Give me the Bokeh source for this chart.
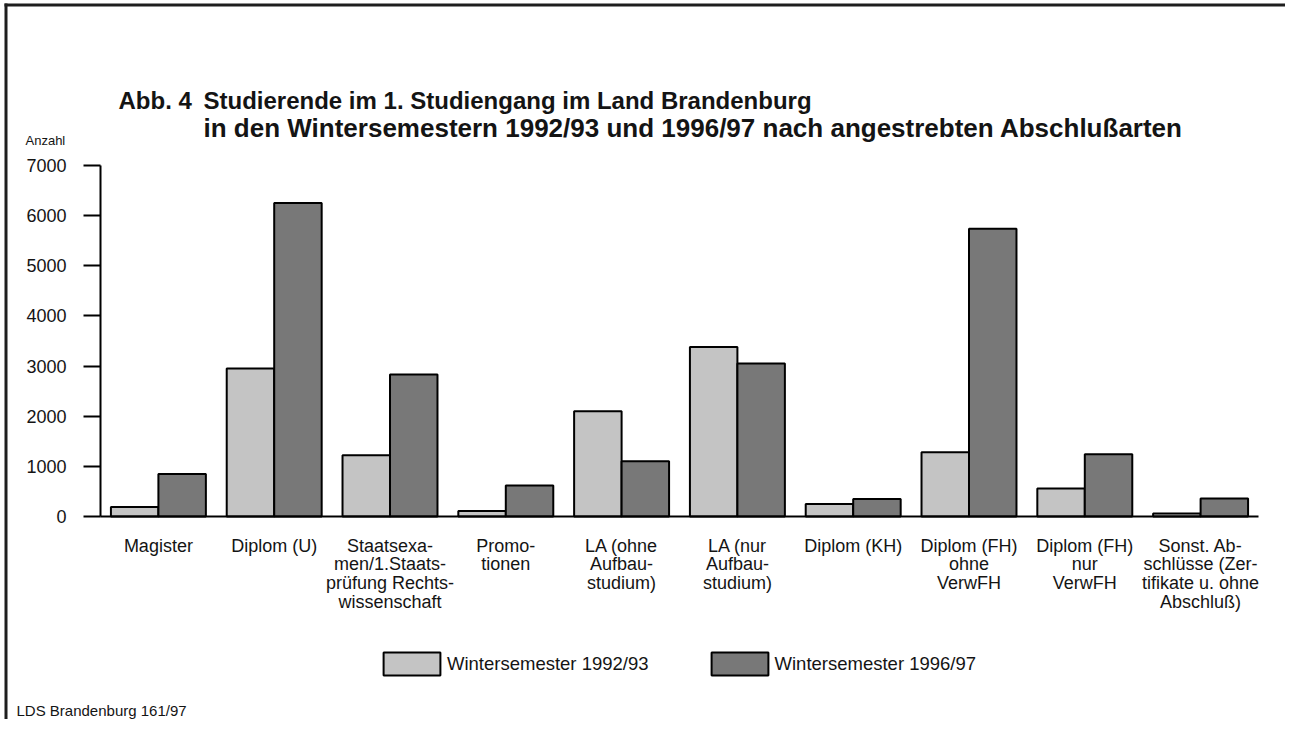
from bokeh.plotting import figure
from bokeh.models import (Range1d, FixedTicker, Legend, LegendItem, Label,
                          BoxAnnotation, ColumnDataSource)
from bokeh.transform import dodge
from bokeh.embed import file_html
from bokeh.resources import INLINE

# ---- data -------------------------------------------------------------
categories = [
    "Magister",
    "Diplom (U)",
    "Staatsexa-\nmen/1.Staats-\nprüfung Rechts-\nwissenschaft",
    "Promo-\ntionen",
    "LA (ohne\nAufbau-\nstudium)",
    "LA (nur\nAufbau-\nstudium)",
    "Diplom (KH)",
    "Diplom (FH)\nohne\nVerwFH",
    "Diplom (FH)\nnur\nVerwFH",
    "Sonst. Ab-\nschlüsse (Zer-\ntifikate u. ohne\nAbschluß)",
]
ws_1992 = [190, 2950, 1220, 110, 2100, 3380, 250, 1280, 560, 60]
ws_1996 = [850, 6250, 2830, 620, 1100, 3050, 350, 5740, 1240, 360]
series_labels = ["Wintersemester 1992/93", "Wintersemester 1996/97"]
y_ticks = [0, 1000, 2000, 3000, 4000, 5000, 6000, 7000]

title_tag = "Abb. 4"
title_line1 = "Studierende im 1. Studiengang im Land Brandenburg"
title_line2 = "in den Wintersemestern 1992/93 und 1996/97 nach angestrebten Abschlußarten"
y_unit = "Anzahl"
source_note = "LDS Brandenburg 161/97"

# ---- style / layout (window pixel targets) ----------------------------
FONT = "Liberation Sans"
LIGHT = "#c4c4c4"
DARK = "#787878"
INK = "#141414"
W, H = 1285, 719                 # canvas size (kept below the window to avoid scrollbars)
AX_LEFT, AX_RIGHT = 100, 1258    # x of category axis ends
Y_TOP, Y_ZERO = 165, 516         # y of 7000 and 0
Y_MAX = 7000

n = len(categories)
sx = (AX_RIGHT - AX_LEFT) / n                    # px per category
sy = (Y_ZERO - Y_TOP) / Y_MAX                    # px per unit
x_range = Range1d(-AX_LEFT / sx, (W - AX_LEFT) / sx)
y_range = Range1d(-(H - Y_ZERO) / sy, Y_ZERO / sy)

pos = [i + 0.5 for i in range(n)]
src = ColumnDataSource(dict(x=pos, a=ws_1992, b=ws_1996))

p = figure(x_range=x_range, y_range=y_range, width=W, height=H,
           output_backend="svg", toolbar_location=None,
           min_border_left=0, min_border_right=0, min_border_top=0,
           min_border_bottom=0)
p.outline_line_color = None
p.xgrid.visible = False
p.ygrid.visible = False
p.background_fill_color = "white"
p.border_fill_color = "white"

bw = 0.41
r1 = p.vbar(x=dodge("x", -bw / 2), top="a", width=bw, source=src,
            fill_color=LIGHT, line_color="black", line_width=2)
r2 = p.vbar(x=dodge("x", bw / 2), top="b", width=bw, source=src,
            fill_color=DARK, line_color="black", line_width=2)

# y axis at the left end of the category axis
ya = p.yaxis[0]
ya.fixed_location = 0
ya.bounds = (0, Y_MAX)
ya.ticker = FixedTicker(ticks=y_ticks)
ya.major_tick_out = 17
ya.major_tick_in = 0
ya.minor_tick_line_color = None
ya.axis_line_width = 2
ya.major_tick_line_width = 2
ya.major_label_standoff = 17
ya.major_label_text_font = FONT
ya.major_label_text_font_size = "18px"
ya.major_label_text_color = INK

# category axis at value 0
xa = p.xaxis[0]
xa.fixed_location = 0
xa.bounds = (0, n)
xa.ticker = FixedTicker(ticks=pos)
xa.major_label_overrides = {t: c for t, c in zip(pos, categories)}
xa.major_tick_line_color = None
xa.minor_tick_line_color = None
xa.axis_line_width = 2
xa.major_label_standoff = 13
xa.major_label_text_font = FONT
xa.major_label_text_font_size = "18px"
xa.major_label_text_line_height = 0.94
xa.major_label_text_color = INK


def scr(X, Y):
    """canvas pixel (from top-left) -> screen units of the frame (origin bottom-left)"""
    return X, H - Y


# legend: bar swatches are drawn at 80 % of the glyph box
GW, GH = 71, 29
lx, ly = scr(376, 678)
legend = Legend(items=[LegendItem(label=series_labels[0], renderers=[r1]),
                       LegendItem(label=series_labels[1], renderers=[r2])],
                orientation="horizontal", location=(lx, ly),
                glyph_width=GW, glyph_height=GH, label_standoff=0, spacing=55,
                label_text_font=FONT, label_text_font_size="18.5px",
                label_text_color=INK,
                border_line_color=None, background_fill_alpha=0,
                padding=0, margin=0)
p.add_layout(legend, "center")


def lab(text, X, Y, size, bold=False):
    x, y = scr(X, Y)
    p.add_layout(Label(x=x, y=y, x_units="screen", y_units="screen", text=text,
                       text_font=FONT, text_font_size=size,
                       text_font_style="bold" if bold else "normal",
                       text_baseline="middle", text_align="left",
                       text_color=INK))


lab(title_tag, 118, 100, "24px", bold=True)
lab(title_line1, 203, 100, "24px", bold=True)
lab(title_line2, 203, 127, "26px", bold=True)
lab(y_unit, 25, 140, "13px")
lab(source_note, 16, 710, "15px")


def rule(x0, x1, y0, y1):
    l, t = scr(x0, y0)
    r, b = scr(x1, y1)
    p.add_layout(BoxAnnotation(left=l, right=r, top=t, bottom=b,
                               left_units="screen", right_units="screen",
                               top_units="screen", bottom_units="screen",
                               fill_color="#1e1e1e", fill_alpha=1,
                               line_color=None, level="overlay"))


# scanned page frame: top and left edge
rule(4, W, 3, 6)
rule(4, 7, 3, H)

open("out.html", "w").write(file_html(p, INLINE))
